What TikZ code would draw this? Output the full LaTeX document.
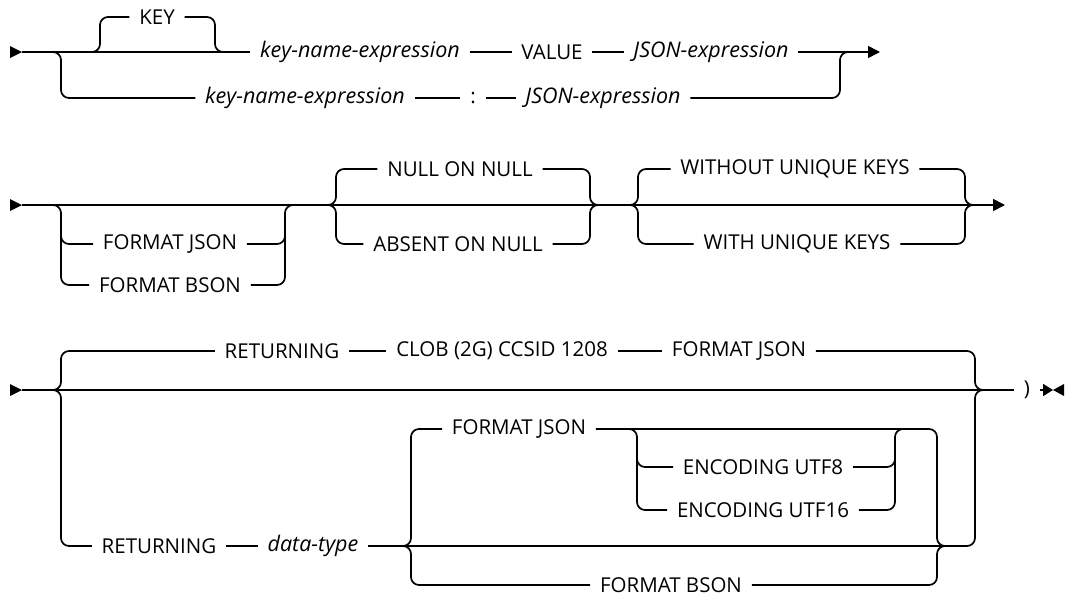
\documentclass[tikz,border=0pt]{standalone}
\usepackage{fontspec}
\setmainfont{Open Sans}
\usetikzlibrary{arrows.meta}

\tikzset{
  kw/.style={font=\fontsize{20.5}{24}\selectfont, inner xsep=9pt, inner ysep=2pt},
  var/.style={kw, font=\fontsize{21.5}{24}\selectfont\itshape},
  rc/.style={rounded corners=8pt},
}

\begin{document}
\begin{tikzpicture}[x=1pt, y=-1pt, line width=1.7pt, >={Triangle[length=12pt,width=12pt]}]
  \useasboundingbox (0,0) rectangle (1065,597);

  % --- 1. KEY ... VALUE / : ---
  \coordinate (s1) at (22,52);
  \fill (10,46) -- (s1) -- (10,58) -- cycle;
  \node[kw] (key) at (157,17) {KEY};
  \node[var] (knx1) at (360,52) {key-name-expression};
  \node[kw] (val) at (552,52) {VALUE};
  \node[var] (jsx1) at (711,52) {JSON-expression};
  \node[var] (knx2) at (305,98) {key-name-expression};
  \node[kw] (colon) at (473,98) {:};
  \node[var] (jsx2) at (603,98) {JSON-expression};
  \coordinate (e1) at (880,52);

  \draw (s1) -- (knx1.west);
  \draw[rc] (84,52) -| (100,17) -- (key.west);
  \draw[rc] (key.east) -| (215,52) -- (227,52);
  \draw (knx1) -- (val);
  \draw (val) -- (jsx1);
  \draw[->] (jsx1.east) -- (e1);
  \draw[rc] (44,52) -| (61,98) -- (knx2.west);
  \draw (knx2) -- (colon);
  \draw (colon) -- (jsx2);
  \draw[rc] (jsx2.east) -| (840,52) -- (852,52);

  % --- 2. FORMAT / ON NULL / UNIQUE KEYS ---
  \coordinate (s2) at (22,205);
  \fill (10,199) -- (s2) -- (10,211) -- cycle;
  \node[kw] (fj2) at (170,244) {FORMAT JSON};
  \node[kw] (fb2) at (170,285) {FORMAT BSON};
  \node[kw] (non) at (460,169) {NULL ON NULL};
  \node[kw] (aon) at (458,244) {ABSENT ON NULL};
  \node[kw] (wou) at (795,169) {WITHOUT UNIQUE KEYS};
  \node[kw] (wiu) at (797,244) {WITH UNIQUE KEYS};
  \coordinate (e2) at (1005,205);

  \draw[->] (s2) -- (e2);
  \draw[rc] (49,205) -| (61,285) -- (fb2.west);
  \draw[rc] (61,230) |- (fj2.west);
  \draw[rc] (fb2.east) -| (285,205) -- (297,205);
  \draw[rc] (fj2.east) -| (285,230);
  \draw[rc] (324,205) -| (336,169) -- (non.west);
  \draw[rc] (324,205) -| (336,244) -- (aon.west);
  \draw[rc] (non.east) -| (590,205) -- (602,205);
  \draw[rc] (aon.east) -| (590,205) -- (602,205);
  \draw[rc] (626,205) -| (638,169) -- (wou.west);
  \draw[rc] (626,205) -| (638,244) -- (wiu.west);
  \draw[rc] (wou.east) -| (965,205) -- (977,205);
  \draw[rc] (wiu.east) -| (965,205) -- (977,205);

  % --- 3. RETURNING ---
  \coordinate (s3) at (22,390);
  \fill (10,384) -- (s3) -- (10,396) -- cycle;
  \node[kw] (ret1) at (282,351) {RETURNING};
  \node[kw] (clob) at (502,351) {CLOB (2G) CCSID 1208};
  \node[kw] (fj3) at (739,351) {FORMAT JSON};
  \node[kw] (ret2) at (159,546) {RETURNING};
  \node[var] (dtype) at (313,546) {data-type};
  \node[kw] (fj4) at (519,429) {FORMAT JSON};
  \node[kw] (enc8) at (763,467) {ENCODING UTF8};
  \node[kw] (enc16) at (763,510) {ENCODING UTF16};
  \node[kw] (fb4) at (671,585) {FORMAT BSON};
  \node[kw] (paren) at (1027,390) {)};
  \coordinate (e3) at (1053,390);

  \draw (s3) -- (paren.west);
  \draw[rc] (49,390) -| (61,351) -- (ret1.west);
  \draw (ret1) -- (clob);
  \draw (clob) -- (fj3);
  \draw[rc] (fj3.east) -| (975,390) -- (987,390);
  \draw[rc] (49,390) -| (61,546) -- (ret2.west);
  \draw (ret2) -- (dtype);
  \draw[rc] (dtype.east) -| (975,390) -- (987,390);
  \draw[rc] (399,546) -| (411,429) -- (fj4.west);
  \draw[rc] (399,546) -| (411,585) -- (fb4.west);
  \draw[rc] (fj4.east) -| (937,546) -- (949,546);
  \draw[rc] (fb4.east) -| (937,546) -- (949,546);
  \draw[rc] (625,429) -| (637,510) -- (enc16.west);
  \draw[rc] (637,450) |- (enc8.west);
  \draw[rc] (enc16.east) -| (895,429) -- (907,429);
  \draw[rc] (enc8.east) -| (895,450);
  \draw[-{Triangle[length=10pt,width=12pt]}] (paren.east) -- (e3);
  \fill (1064,384) -- (e3) -- (1064,396) -- cycle;

\end{tikzpicture}
\end{document}
